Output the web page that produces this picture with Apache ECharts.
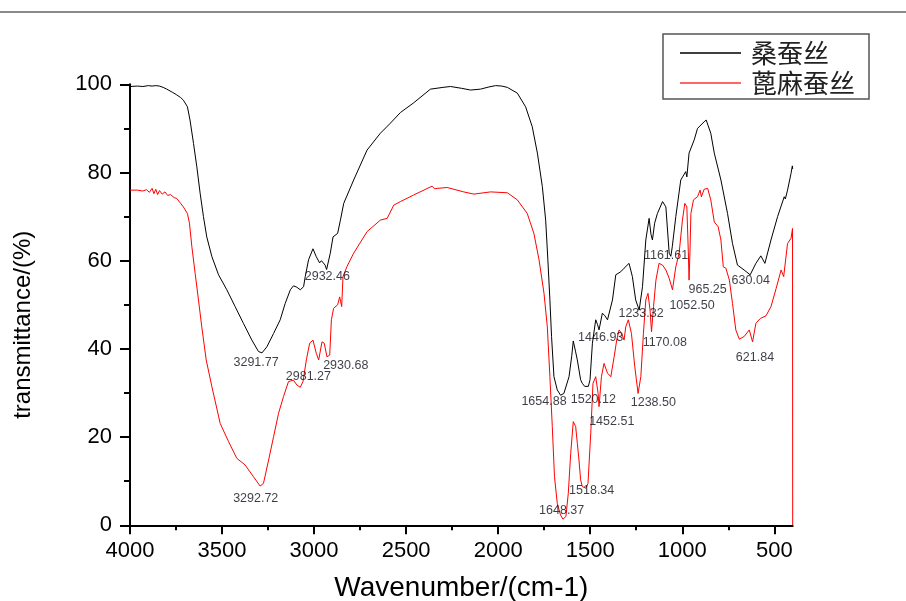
<!DOCTYPE html>
<html>
<head>
<meta charset="utf-8">
<script src="https://cdn.jsdelivr.net/npm/echarts@6/dist/echarts.min.js"></script>
<style>
html,body{margin:0;padding:0;background:#fff;}
#chart{width:906px;height:601px;}
</style>
</head>
<body>
<div id="chart"></div>
<script>
// ---- Data ----
const seriesNames = ['桑蚕丝', '蓖麻蚕丝'];

const mulberryX = [4000,3960,3930,3900,3880,3860,3850,3840,3820,3800,3770,3746,3725,3710,3688,3674,3655,3637,3619,3601,3583,3555,3519,3474,3429,3384,3338,3302,3292,3283,3256,3220,3184,3157,3129,3112,3094,3075,3057,3048,3030,3006,2988,2970,2960,2952,2940,2932,2912,2897,2872,2857,2839,2785,2712,2640,2585,2531,2459,2368,2300,2259,2200,2150,2096,2050,2014,1980,1950,1896,1851,1815,1787,1760,1742,1730,1719,1710,1697,1679,1661,1655,1643,1615,1600,1592,1580,1570,1552,1543,1530,1520,1510,1501,1488,1470,1460,1452,1434,1420,1406,1379,1361,1334,1316,1289,1271,1253,1234,1216,1198,1180,1170,1162,1150,1135,1107,1089,1071,1062,1054,1035,1008,981,975,963,935,917,881,870,862,845,826,790,754,727,700,664,631,600,573,551,518,482,446,440,428,409,402,400];
const mulberryY = [99.5,99.6,99.5,99.7,99.6,99.7,99.4,99.6,99.3,98.9,98.2,97.6,97.0,96.4,94.9,91.9,86.6,81.3,75.3,70.0,65.4,60.9,56.8,53.4,49.6,45.8,42.0,39.4,39.0,39.1,40.5,43.5,46.6,50.3,53.4,54.3,54.0,53.4,54.1,56.4,60.2,62.7,60.9,59.5,60.0,59.9,59.0,58.0,61.7,65.4,66.2,69.2,73.0,78.3,85.1,88.9,91.2,93.6,95.8,98.9,99.3,99.5,99.1,98.7,98.9,99.4,99.7,99.6,99.3,98.0,94.9,90.4,84.4,76.8,69.2,60.2,51.1,42.8,33.7,30.7,29.5,29.3,29.9,33.7,38.5,41.8,39.5,37.5,33.0,32.2,31.5,31.3,31.5,33.0,41.3,46.6,45.5,44.3,48.1,47.5,46.6,51.1,56.8,57.5,58.3,59.4,56.4,51.1,48.8,54.1,64.7,69.6,66.0,64.7,68.5,70.7,73.4,72.2,61.7,61.0,63.2,70.0,78.3,80.2,79.0,84.4,87.4,90.0,91.5,91.9,91.7,88.9,84.4,78.3,70.7,63.9,59.0,57.9,56.8,59.4,61.1,59.4,64.7,70.0,74.5,74.0,76.0,79.8,81.5,80.8];

const castorX = [4000,3960,3930,3910,3895,3880,3870,3860,3850,3840,3825,3810,3795,3780,3760,3746,3725,3710,3700,3688,3677,3664,3646,3628,3610,3586,3555,3510,3465,3420,3375,3329,3293,3275,3247,3220,3193,3166,3139,3112,3093,3075,3060,3042,3024,3006,2988,2975,2957,2945,2930,2915,2906,2894,2872,2861,2850,2843,2821,2785,2712,2640,2603,2567,2531,2459,2359,2345,2332,2277,2187,2132,2041,1950,1896,1842,1806,1778,1751,1733,1719,1706,1694,1679,1661,1648,1632,1619,1606,1592,1579,1570,1561,1552,1543,1524,1512,1497,1485,1470,1457,1452,1439,1425,1406,1388,1370,1356,1343,1329,1316,1307,1293,1276,1258,1240,1225,1211,1198,1186,1175,1167,1156,1143,1126,1107,1089,1071,1053,1035,1017,999,986,975,967,963,958,953,939,917,903,896,881,862,845,826,805,790,777,763,744,727,709,690,664,636,618,600,576,545,518,490,463,449,428,409,401,400];
const castorY = [76.0,76.0,75.8,76.1,75.5,76.4,75.2,76.2,75.0,75.9,75.1,75.6,74.8,75.0,74.3,74.1,73.0,72.2,71.5,70.7,68.5,63.2,57.1,51.1,45.0,37.5,31.4,23.1,19.0,15.2,13.7,11.0,8.9,9.5,14.8,20.1,25.4,29.2,32.6,32.9,31.8,31.3,32.6,37.5,41.3,42.0,39.0,37.5,41.6,41.3,38.2,38.6,46.6,49.2,50.0,51.8,49.6,56.4,58.7,61.7,66.6,69.2,69.6,72.6,73.4,74.9,76.9,76.3,76.4,76.6,75.6,75.1,75.6,75.4,73.8,70.7,66.2,60.2,52.6,45.0,33.7,22.4,11.0,5.0,2.3,1.4,2.0,7.3,16.3,23.5,22.4,18.6,14.8,10.3,8.8,8.4,9.5,20.9,32.2,33.7,29.9,26.9,33.7,36.7,34.5,33.7,38.2,42.0,44.3,43.5,42.0,45.0,46.6,43.5,36.0,29.9,33.7,43.5,51.1,52.6,48.8,43.9,49.6,55.6,59.4,59.0,57.9,56.0,53.4,58.6,61.7,69.2,73.0,72.2,62.0,55.6,62.0,70.7,73.8,74.5,76.0,74.5,76.2,76.4,73.8,68.8,67.7,64.7,58.6,58.3,55.6,50.3,44.3,42.2,42.8,44.3,41.6,45.8,46.9,47.5,49.6,53.7,57.9,56.4,63.9,65.1,67.3,0];

// peak annotations: text, and where the text sits (wavenumber, transmittance)
const annoText = ['3291.77','3292.72','2981.27','2932.46','2930.68','1654.88','1648.37','1520.12','1518.34','1446.93','1452.51','1233.32','1238.50','1170.08','1161.61','1052.50','965.25','630.04','621.84'];
const annoX = [3315,3317,3031,2928,2828,1751,1655,1483,1492,1443,1383,1224,1157,1095,1088,947,862,628,605];
const annoY = [37.0,6.1,33.7,56.4,36.3,28.0,3.3,28.6,7.8,42.6,23.5,48.1,27.8,41.4,61.1,49.8,53.4,55.4,38.0];

const xMajorTicks = [500,1000,1500,2000,2500,3000,3500,4000];
const xMinorTicks = [750,1250,1750,2250,2750,3250,3750];
const xTitle = 'Wavenumber/(cm-1)';
const yTitle = 'transmittance/(%)';

// ---- Chart ----
const zip = (xs, ys) => xs.map((x, i) => [x, ys[i]]);
const chart = echarts.init(document.getElementById('chart'), null, {renderer: 'canvas'});
const FONT = '"Liberation Sans", Arial, sans-serif';

const option = {
  animation: false,
  backgroundColor: '#fff',
  grid: {left: 130, right: 113.3, top: 84.3, bottom: 75.7, containLabel: false, outerBoundsMode: 'none'},
  xAxis: [{
    type: 'value', min: 400, max: 4000, inverse: true, position: 'bottom',
    name: xTitle, nameLocation: 'middle', nameGap: 49,
    nameTextStyle: {fontFamily: FONT, fontSize: 28, color: '#000'},
    axisLine: {show: true, onZero: false, lineStyle: {color: '#000', width: 2}},
    axisTick: {show: true, inside: false, length: 9, lineStyle: {color: '#000', width: 2}, customValues: xMajorTicks},
    axisLabel: {show: true, margin: 15, fontFamily: FONT, fontSize: 22, color: '#000', customValues: xMajorTicks,
      formatter: v => String(v)},
    splitLine: {show: false}
  }, {
    type: 'value', min: 400, max: 4000, inverse: true, position: 'bottom',
    axisLine: {show: false},
    axisTick: {show: true, inside: false, length: 5, lineStyle: {color: '#000', width: 2}, customValues: xMinorTicks},
    axisLabel: {show: false},
    splitLine: {show: false}
  }],
  yAxis: {
    type: 'value', min: 0, max: 100, interval: 20,
    name: yTitle, nameLocation: 'middle', nameGap: 95, nameRotate: 90,
    nameTextStyle: {fontFamily: FONT, fontSize: 24, color: '#000', padding: [0, 40, 0, 0]},
    axisLine: {show: true, lineStyle: {color: '#000', width: 2}},
    axisTick: {show: true, inside: false, length: 10, lineStyle: {color: '#000', width: 2}},
    minorTick: {show: true, splitNumber: 2, length: 6, lineStyle: {color: '#000', width: 2}},
    axisLabel: {show: true, margin: 18, fontFamily: FONT, fontSize: 22, color: '#000', formatter: v => String(v)},
    splitLine: {show: false}
  },
  legend: {
    show: true, orient: 'vertical', left: 663, top: 34,
    padding: [6, 14, 3, 17], itemGap: 4,
    itemWidth: 61, itemHeight: 1.5,
    borderColor: '#555', borderWidth: 1.5, backgroundColor: '#fff',
    textStyle: {fontFamily: '"Noto Sans CJK SC", sans-serif', fontSize: 26, color: '#222', padding: [0, 0, 0, 5]},
    data: [
      {name: seriesNames[0], icon: 'rect', itemStyle: {color: '#000'}},
      {name: seriesNames[1], icon: 'rect', itemStyle: {color: '#ff3333'}}
    ]
  },
  graphic: [{
    type: 'line', shape: {x1: 0, y1: 12, x2: 906, y2: 12},
    style: {stroke: '#8a8a8a', lineWidth: 2}, silent: true
  }],
  series: [{
    name: seriesNames[0], type: 'line', data: zip(mulberryX, mulberryY),
    showSymbol: false, symbol: 'none', lineStyle: {color: '#000', width: 1}, itemStyle: {color: '#000'}, z: 3
  }, {
    name: seriesNames[1], type: 'line', data: zip(castorX, castorY),
    showSymbol: false, symbol: 'none', lineStyle: {color: '#ff0000', width: 1}, itemStyle: {color: '#ff0000'}, z: 2
  }, {
    name: 'peaks', type: 'scatter', data: zip(annoX, annoY),
    symbolSize: 1, itemStyle: {color: 'rgba(0,0,0,0)'}, silent: true, z: 5,
    label: {
      show: true, position: 'inside', fontFamily: FONT, fontSize: 12.5, color: '#0d0d18',
      formatter: p => annoText[p.dataIndex]
    }
  }]
};
chart.setOption(option);
</script>
</body>
</html>
